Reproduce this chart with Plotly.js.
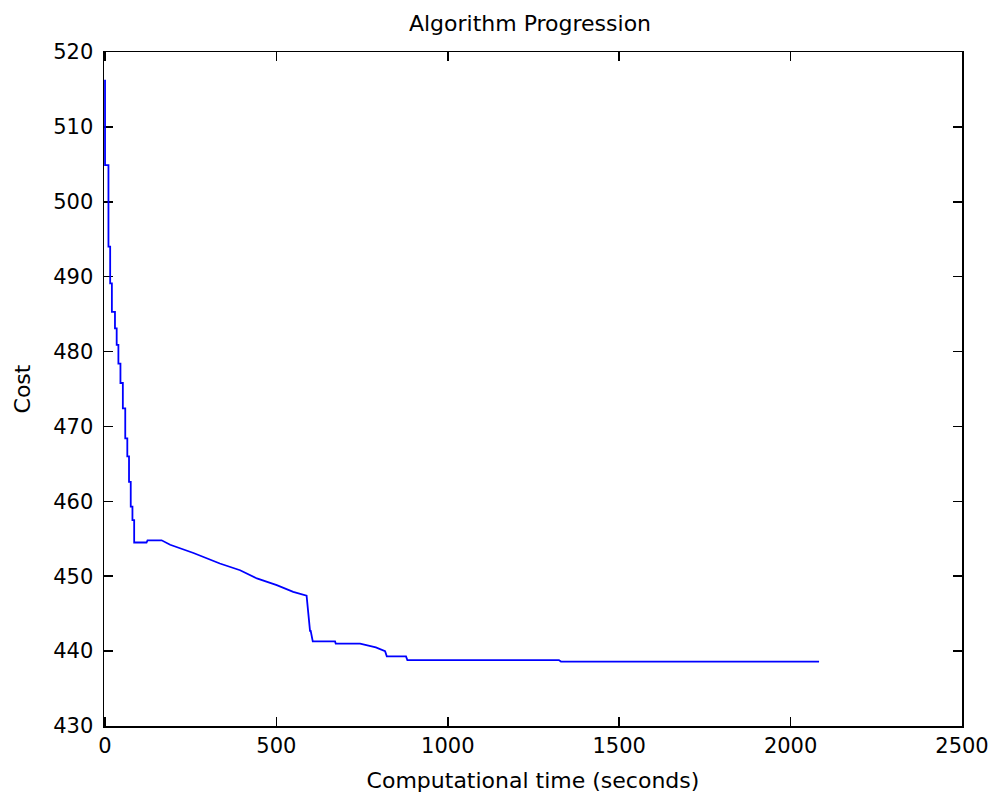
<!DOCTYPE html>
<html>
<head>
<meta charset="utf-8">
<script src="https://cdn.plot.ly/plotly-3.0.1.min.js"></script>
<style>html,body{margin:0;padding:0;background:#fff;}#chart{width:995px;height:801px;}</style>
</head>
<body>
<div id="chart"></div>
<script>
// Computational time (seconds)
var timeSec = [0, 0, 10, 10, 15, 15, 20, 20, 29, 29, 34, 34, 39, 39, 45, 45, 52, 52, 59, 59,
  65, 65, 70, 70, 75, 75, 80, 80, 85, 85, 121, 124, 165, 190, 258, 335, 394, 443, 501, 549, 588,
  591, 593, 598, 600, 604, 606, 671, 673, 744, 790, 817, 822, 826, 878, 882, 1324, 1330, 2083];
// Cost
var cost = [516.3, 504.9, 504.9, 494.0, 494.0, 489.1, 489.1, 485.3, 485.3, 483.1, 483.1, 480.9,
  480.9, 478.4, 478.4, 475.8, 475.8, 472.4, 472.4, 468.4, 468.4, 466.0, 466.0, 462.6, 462.6, 459.3,
  459.3, 457.5, 457.5, 454.5, 454.5, 454.8, 454.8, 454.2, 453.1, 451.7, 450.8, 449.7, 448.8, 447.9, 447.4,
  445.8, 445.8, 442.7, 442.7, 441.3, 441.3, 441.3, 441.0, 441.0, 440.5, 440.0, 439.3, 439.3, 439.3, 438.8, 438.8, 438.6, 438.6];

var xTicks = [0, 500, 1000, 1500, 2000, 2500];
var yTicks = [430, 440, 450, 460, 470, 480, 490, 500, 510, 520];

var font = 'DejaVu Sans, Verdana, sans-serif';

var trace = {
  x: timeSec, y: cost, type: 'scatter', mode: 'lines',
  line: {color: '#0000ff', width: 1.8}, hoverinfo: 'skip', showlegend: false
};

var axisCommon = {
  showgrid: false, zeroline: false, showline: true, linecolor: '#000', linewidth: 1.5,
  mirror: 'ticks', ticks: 'inside', ticklen: 9, tickwidth: 1.5, tickcolor: '#000',
  layer: 'below traces',
  tickfont: {family: font, size: 21, color: '#000'}
};

var layout = {
  width: 995, height: 801,
  margin: {l: 104, r: 33, t: 52, b: 75},
  paper_bgcolor: '#fff', plot_bgcolor: '#fff',
  title: {text: 'Algorithm Progression', font: {family: font, size: 22, color: '#000'},
    x: 530/995, xanchor: 'center', xref: 'container', y: 1 - 23/801, yref: 'container', yanchor: 'middle'},
  xaxis: Object.assign({}, axisCommon, {
    range: [-3, 2500], tickmode: 'array', tickvals: xTicks, ticktext: xTicks.map(String),
    title: {text: 'Computational time (seconds)', font: {family: font, size: 22, color: '#000'}, standoff: 16}
  }),
  yaxis: Object.assign({}, axisCommon, {
    range: [430, 520], tickmode: 'array', tickvals: yTicks, ticktext: yTicks.map(String),
    ticklabelstandoff: 5,
    title: {text: 'Cost', font: {family: font, size: 22, color: '#000'}, standoff: 16}
  })
};

Plotly.newPlot('chart', [trace], layout, {displayModeBar: false, staticPlot: true});
</script>
</body>
</html>
